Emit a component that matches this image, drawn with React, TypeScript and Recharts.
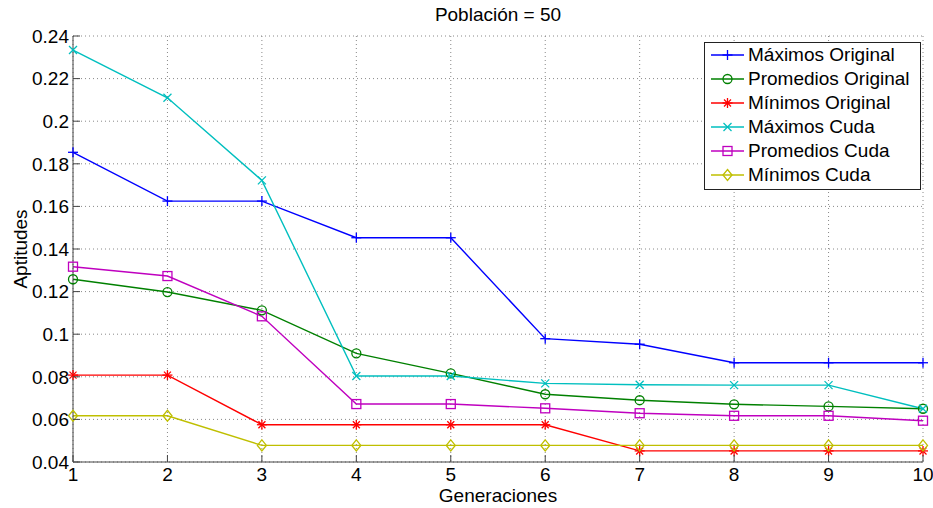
import React from "react";
import {
  CartesianGrid,
  Label,
  Line,
  LineChart,
  XAxis,
  YAxis,
} from "recharts";

const generations = [1, 2, 3, 4, 5, 6, 7, 8, 9, 10];
const maxOriginal = [0.1854, 0.1625, 0.1625, 0.1453, 0.1453, 0.0979, 0.0953, 0.0866, 0.0866, 0.0866];
const avgOriginal = [0.1258, 0.1198, 0.1112, 0.091, 0.0816, 0.0718, 0.069, 0.0671, 0.0661, 0.065];
const minOriginal = [0.0808, 0.0808, 0.0575, 0.0575, 0.0575, 0.0575, 0.0452, 0.0452, 0.0452, 0.0452];
const maxCuda = [0.2334, 0.211, 0.1722, 0.0804, 0.0804, 0.0769, 0.0763, 0.0761, 0.0761, 0.065];
const avgCuda = [0.1317, 0.1273, 0.1084, 0.0672, 0.0672, 0.0652, 0.0629, 0.0617, 0.0617, 0.0594];
const minCuda = [0.0617, 0.0617, 0.0478, 0.0478, 0.0478, 0.0478, 0.0478, 0.0478, 0.0478, 0.0478];

const xTicks = [1, 2, 3, 4, 5, 6, 7, 8, 9, 10];
const yTicks = [0.04, 0.06, 0.08, 0.1, 0.12, 0.14, 0.16, 0.18, 0.2, 0.22, 0.24];

type Shape = "plus" | "circle" | "star" | "x" | "square" | "diamond";

const series: { key: string; name: string; color: string; shape: Shape; values: number[] }[] = [
  { key: "maxOrig", name: "Máximos Original", color: "#0000ff", shape: "plus", values: maxOriginal },
  { key: "avgOrig", name: "Promedios Original", color: "#008000", shape: "circle", values: avgOriginal },
  { key: "minOrig", name: "Mínimos Original", color: "#ff0000", shape: "star", values: minOriginal },
  { key: "maxCuda", name: "Máximos Cuda", color: "#00bfbf", shape: "x", values: maxCuda },
  { key: "avgCuda", name: "Promedios Cuda", color: "#bf00bf", shape: "square", values: avgCuda },
  { key: "minCuda", name: "Mínimos Cuda", color: "#bfbf00", shape: "diamond", values: minCuda },
];

const data = generations.map((g, i) => {
  const row: Record<string, number> = { gen: g };
  series.forEach((s) => (row[s.key] = s.values[i]));
  return row;
});

const FONT = "'Liberation Sans', Arial, Helvetica, sans-serif";
const FS = 19;
const AXIS = "#444";
const TICK = 7;

const Marker = ({ shape, cx, cy, color }: { shape: Shape; cx: number; cy: number; color: string }) => {
  const p = { stroke: color, strokeWidth: 1.3, fill: "none" };
  switch (shape) {
    case "plus":
      return (
        <g {...p}>
          <line x1={cx - 5} y1={cy} x2={cx + 5} y2={cy} />
          <line x1={cx} y1={cy - 5} x2={cx} y2={cy + 5} />
        </g>
      );
    case "circle":
      return <circle cx={cx} cy={cy} r={4.5} {...p} />;
    case "star":
      return (
        <g {...p}>
          <line x1={cx - 5} y1={cy} x2={cx + 5} y2={cy} />
          <line x1={cx} y1={cy - 5} x2={cx} y2={cy + 5} />
          <line x1={cx - 3.5} y1={cy - 3.5} x2={cx + 3.5} y2={cy + 3.5} />
          <line x1={cx - 3.5} y1={cy + 3.5} x2={cx + 3.5} y2={cy - 3.5} />
        </g>
      );
    case "x":
      return (
        <g {...p}>
          <line x1={cx - 4} y1={cy - 4} x2={cx + 4} y2={cy + 4} />
          <line x1={cx - 4} y1={cy + 4} x2={cx + 4} y2={cy - 4} />
        </g>
      );
    case "square":
      return <rect x={cx - 4.5} y={cy - 4.5} width={9} height={9} {...p} />;
    case "diamond":
      return (
        <polygon
          points={`${cx},${cy - 5.5} ${cx + 4.5},${cy} ${cx},${cy + 5.5} ${cx - 4.5},${cy}`}
          {...p}
        />
      );
  }
  return null;
};

const fmt = (v: number) => String(Number(v.toFixed(2)));

const BottomTick = (props: any) => {
  const { x, y, payload } = props;
  const axisY = y - 4;
  return (
    <g>
      <line x1={x} y1={axisY} x2={x} y2={axisY - TICK} stroke={AXIS} />
      <text x={x} y={y} dy="0.8em" textAnchor="middle" fontSize={FS} fontFamily={FONT} fill="#000">
        {payload.value}
      </text>
    </g>
  );
};

const TopTick = (props: any) => {
  const { x, y } = props;
  const axisY = y + 4;
  return <line x1={x} y1={axisY} x2={x} y2={axisY + TICK} stroke={AXIS} />;
};

const LeftTick = (props: any) => {
  const { x, y, payload } = props;
  const axisX = x + 4;
  return (
    <g>
      <line x1={axisX} y1={y} x2={axisX + TICK} y2={y} stroke={AXIS} />
      <text x={x} y={y} dy="0.36em" textAnchor="end" fontSize={FS} fontFamily={FONT} fill="#000">
        {fmt(payload.value)}
      </text>
    </g>
  );
};

const RightTick = (props: any) => {
  const { x, y } = props;
  const axisX = x - 4;
  return <line x1={axisX} y1={y} x2={axisX - TICK} y2={y} stroke={AXIS} />;
};

const LegendBox = () => (
  <div
    style={{
      position: "absolute",
      left: 704,
      top: 42,
      boxSizing: "border-box",
      width: 217,
      height: 148,
      border: "1px solid #222",
      background: "#fff",
      paddingTop: 0,
      paddingLeft: 6,
      fontFamily: FONT,
      fontSize: FS,
      color: "#000",
    }}
  >
    {series.map((s) => (
      <div key={s.key} style={{ display: "flex", alignItems: "center", height: 24 }}>
        <svg width={36} height={24} style={{ flex: "none" }}>
          <line x1={0} y1={12} x2={33} y2={12} stroke={s.color} strokeWidth={1.3} />
          <Marker shape={s.shape} cx={16.5} cy={12} color={s.color} />
        </svg>
        <span style={{ whiteSpace: "nowrap", marginLeft: 1 }}>{s.name}</span>
      </div>
    ))}
  </div>
);

const YLabel = (props: any) => {
  const vb = props.viewBox;
  const cx = 20;
  const cy = vb.y + vb.height / 2;
  return (
    <text
      x={cx}
      y={cy}
      transform={`rotate(-90 ${cx} ${cy})`}
      textAnchor="middle"
      dominantBaseline="central"
      fontSize={FS}
      fontFamily={FONT}
      fill="#000"
    >
      Aptitudes
    </text>
  );
};

export default function App() {
  return (
    <div style={{ position: "absolute", left: 0, top: 0, width: 933, height: 508, background: "#fff" }}>
      <div
        style={{
          position: "absolute",
          left: 73,
          width: 850,
          top: 4,
          textAlign: "center",
          fontFamily: FONT,
          fontSize: FS,
          lineHeight: "22px",
          color: "#000",
        }}
      >
        Población = 50
      </div>
      <LineChart
        width={933}
        height={508}
        data={data}
        margin={{ top: 36, right: 10, left: 0, bottom: 0 }}
      >
        <CartesianGrid stroke="#888" strokeDasharray="1 3" horizontalValues={yTicks} verticalValues={xTicks} />
        <XAxis
          dataKey="gen"
          type="number"
          domain={[1, 10]}
          ticks={xTicks}
          height={46}
          tickSize={0}
          tickMargin={4}
          tick={BottomTick}
          axisLine={{ stroke: AXIS }}
          interval={0}
        >
          <Label
            value="Generaciones"
            position="insideBottom"
            offset={6}
            style={{ fontSize: FS, fontFamily: FONT, fill: "#000" }}
          />
        </XAxis>
        <XAxis
          xAxisId="top"
          orientation="top"
          dataKey="gen"
          type="number"
          domain={[1, 10]}
          ticks={xTicks}
          height={0}
          tickSize={0}
          tickMargin={4}
          tick={TopTick}
          axisLine={{ stroke: AXIS }}
          interval={0}
        />
        <YAxis
          type="number"
          domain={[0.04, 0.24]}
          ticks={yTicks}
          width={73}
          tickSize={0}
          tickMargin={4}
          tick={LeftTick}
          axisLine={{ stroke: AXIS }}
          interval={0}
          allowDataOverflow
        >
          <Label content={YLabel} />
        </YAxis>
        <YAxis
          yAxisId="right"
          orientation="right"
          type="number"
          domain={[0.04, 0.24]}
          ticks={yTicks}
          width={0}
          tickSize={0}
          tickMargin={4}
          tick={RightTick}
          axisLine={{ stroke: AXIS }}
          interval={0}
        />
        {series.map((s) => (
          <Line
            key={s.key}
            dataKey={s.key}
            name={s.name}
            type="linear"
            stroke={s.color}
            strokeWidth={1.4}
            isAnimationActive={false}
            dot={(p: any) => (
              <Marker key={`${s.key}-${p.index}`} shape={s.shape} cx={p.cx} cy={p.cy} color={s.color} />
            )}
            activeDot={false}
          />
        ))}
      </LineChart>
      <LegendBox />
    </div>
  );
}
